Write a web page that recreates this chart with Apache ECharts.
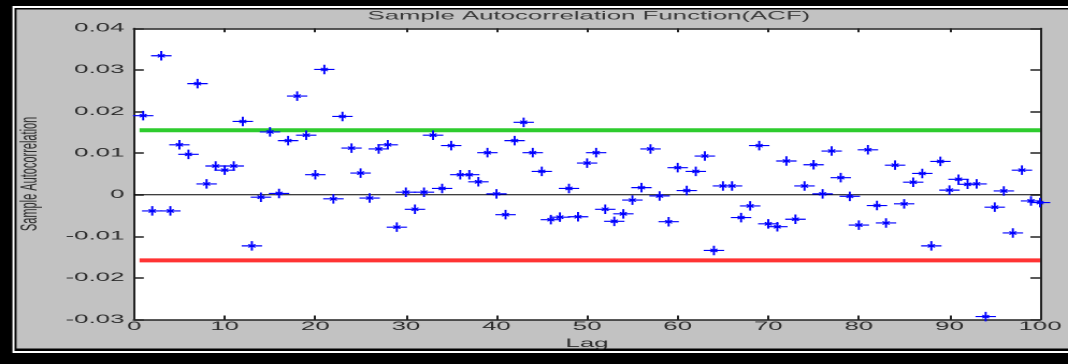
<!DOCTYPE html>
<html>
<head>
<meta charset="utf-8">
<title>Sample Autocorrelation Function(ACF)</title>
<script src="https://cdn.jsdelivr.net/npm/echarts@6/dist/echarts.min.js"></script>
<style>
  html, body { margin: 0; padding: 0; background: #000; overflow: hidden; }
  /* the source figure is a MATLAB plot stretched sideways, so draw narrow and stretch */
  #main { width: 497px; height: 364px; transform: scaleX(2.1489); transform-origin: 0 0; }
</style>
</head>
<body>
<div id="main"></div>
<script>
// lags 1..100
const lags = [];
for (let i = 1; i <= 100; i++) lags.push(i);

const acf = [
  0.0190, -0.0039, 0.0334, -0.0039, 0.0120, 0.0097, 0.0267, 0.0026, 0.0069, 0.0059,
  0.0069, 0.0176, -0.0123, -0.0006, 0.0151, 0.0003, 0.0130, 0.0237, 0.0143, 0.0048,
  0.0301, -0.0010, 0.0188, 0.0112, 0.0052, -0.0008, 0.0110, 0.0120, -0.0078, 0.0006,
  -0.0035, 0.0006, 0.0143, 0.0015, 0.0118, 0.0048, 0.0048, 0.0031, 0.0101, 0.0002,
  -0.0048, 0.0130, 0.0174, 0.0101, 0.0056, -0.0060, -0.0054, 0.0015, -0.0053, 0.0076,
  0.0101, -0.0035, -0.0064, -0.0046, -0.0013, 0.0017, 0.0110, -0.0003, -0.0065, 0.0065,
  0.0010, 0.0056, 0.0093, -0.0134, 0.0021, 0.0021, -0.0055, -0.0027, 0.0118, -0.0070,
  -0.0077, 0.0081, -0.0059, 0.0021, 0.0072, 0.0002, 0.0105, 0.0041, -0.0004, -0.0073,
  0.0108, -0.0026, -0.0068, 0.0071, -0.0022, 0.0030, 0.0051, -0.0123, 0.0080, 0.0011,
  0.0037, 0.0025, 0.0026, -0.0293, -0.0030, 0.0009, -0.0092, 0.0059, -0.0015, -0.0019
];

// confidence bounds and zero line
const boundLags = [0.6, 100];
const upperBound = [0.0155, 0.0155];
const lowerBound = [-0.0158, -0.0158];
const zeroLags = [0, 100];
const zeroLine = [0, 0];

const xTicks = { min: 0, max: 100, interval: 10 };
const yTicks = { min: -0.03, max: 0.04, interval: 0.01 };

// matlab-like '*' marker, diagonals kept short
const starPath = "path://M0 4.4L10 4.4L10 5.6L0 5.6Z M4.5 0L5.5 0L5.5 10L4.5 10Z " +
  "M3.0 3.6L3.6 3.0L7.0 6.4L6.4 7.0Z M6.4 3.0L7.0 3.6L3.6 7.0L3.0 6.4Z";

const pairs = (xs, ys) => xs.map((x, i) => [x, ys[i]]);

const font = "'Liberation Sans', Arial, sans-serif";
const axisColor = "#222";
const textColor = "#2e2e2e";

let chart = echarts.init(document.getElementById("main"), null, { devicePixelRatio: 2 });

let xAxisBase = {
  type: "value",
  min: xTicks.min,
  max: xTicks.max,
  interval: xTicks.interval,
  splitLine: { show: false },
  axisLine: { show: true, onZero: false, lineStyle: { color: axisColor, width: 1.5 } },
  axisTick: { show: true, inside: true, length: 4, lineStyle: { color: axisColor, width: 1 } },
};

let yAxisBase = {
  type: "value",
  min: yTicks.min,
  max: yTicks.max,
  interval: yTicks.interval,
  splitLine: { show: false },
  axisLine: { show: true, onZero: false, lineStyle: { color: axisColor, width: 1 } },
  axisTick: { show: true, inside: true, length: 4.5, lineStyle: { color: axisColor, width: 1.5 } },
};

let option = {
  animation: false,
  backgroundColor: "#000",
  graphic: [
    { type: "rect", z: -10, shape: { x: 5.8, y: 6, width: 500, height: 347 }, style: { fill: "#fff" } },
    { type: "rect", z: -9, shape: { x: 6.75, y: 8, width: 500, height: 343 }, style: { fill: "#000" } },
    { type: "rect", z: -8, shape: { x: 7.7, y: 9.5, width: 500, height: 339 }, style: { fill: "#c2c2c2" } },
  ],
  title: {
    text: "Sample Autocorrelation Function(ACF)",
    left: 274,
    top: 10,
    padding: 0,
    textAlign: "center",
    textStyle: { fontFamily: font, fontSize: 12, fontWeight: "normal", color: "#3a3a3a" },
  },
  grid: {
    left: 62.4,
    right: 9.8,
    top: 28.3,
    bottom: 44.5,
    show: true,
    backgroundColor: "#fff",
    borderWidth: 0,
  },
  xAxis: [
    Object.assign({}, xAxisBase, {
      position: "bottom",
      name: "Lag",
      nameLocation: "middle",
      nameGap: 18,
      nameTextStyle: { fontFamily: font, fontSize: 12, color: textColor },
      axisLabel: { margin: 1, fontFamily: font, fontSize: 12, color: textColor },
    }),
    Object.assign({}, xAxisBase, { position: "top", axisLabel: { show: false } }),
  ],
  yAxis: [
    Object.assign({}, yAxisBase, {
      position: "left",
      name: "Sample Autocorrelation",
      nameLocation: "middle",
      nameGap: 41,
      nameTextStyle: { fontFamily: font, fontSize: 11, color: textColor },
      axisLabel: {
        margin: 4.5,
        fontFamily: font,
        fontSize: 12,
        color: textColor,
        formatter: (v) => (Math.abs(v) < 1e-9 ? "0" : v.toFixed(2)),
      },
    }),
    Object.assign({}, yAxisBase, { position: "right", axisLabel: { show: false } }),
  ],
  series: [
    {
      type: "line",
      data: pairs(zeroLags, zeroLine),
      symbol: "none",
      silent: true,
      lineStyle: { color: "#000", width: 1 },
    },
    {
      type: "line",
      data: pairs(boundLags, upperBound),
      symbol: "none",
      silent: true,
      lineStyle: { color: "#2ecc2e", width: 4 },
    },
    {
      type: "line",
      data: pairs(boundLags, lowerBound),
      symbol: "none",
      silent: true,
      lineStyle: { color: "#ff3333", width: 4 },
    },
    {
      type: "scatter",
      data: pairs(lags, acf),
      symbol: starPath,
      symbolSize: 9.5,
      itemStyle: { color: "#0000ff", opacity: 1 },
      z: 5,
    },
  ],
};

chart.setOption(option);
</script>
</body>
</html>
